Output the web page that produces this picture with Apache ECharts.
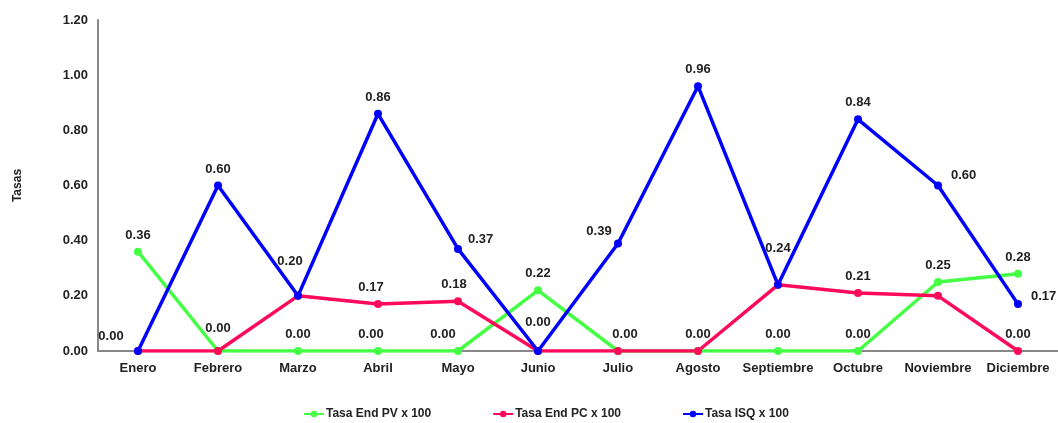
<!DOCTYPE html>
<html>
<head>
<meta charset="utf-8">
<script src="https://cdn.jsdelivr.net/npm/echarts@6/dist/echarts.min.js"></script>
<style>
  html, body { margin: 0; padding: 0; background: #fff; }
  #main { width: 1058px; height: 423px; }
</style>
</head>
<body>
<div id="main"></div>
<script>
const meses = ['Enero', 'Febrero', 'Marzo', 'Abril', 'Mayo', 'Junio', 'Julio', 'Agosto', 'Septiembre', 'Octubre', 'Noviembre', 'Diciembre'];
const tasaEndPV = [0.36, 0.00, 0.00, 0.00, 0.00, 0.22, 0.00, 0.00, 0.00, 0.00, 0.25, 0.28];
const tasaEndPC = [0.00, 0.00, 0.20, 0.17, 0.18, 0.00, 0.00, 0.00, 0.24, 0.21, 0.20, 0.00];
const tasaISQ = [0.00, 0.60, 0.20, 0.86, 0.37, 0.00, 0.39, 0.96, 0.24, 0.84, 0.60, 0.17];

var chartDom = document.getElementById('main');
var myChart = echarts.init(chartDom);
var option;

const fuente = 'Liberation Sans, Arial, sans-serif';

// colocacion de etiquetas que no van centradas encima (serie-indice)
const ajustes = {
  '1-0': { offset: [-27, 2] },
  '0-1': { offset: [0, -6] },
  '1-2': { offset: [-8, -18] },
  '0-3': { offset: [-7, 0] },
  '1-3': { offset: [-7, 0] },
  '0-4': { offset: [-15, 0] },
  '1-4': { offset: [-4, 0] },
  '2-4': { position: 'right', offset: [0, -10] },
  '1-5': { offset: [0, -12] },
  '0-6': { offset: [7, 0] },
  '2-6': { offset: [-19, 4] },
  '1-8': { offset: [0, -20] },
  '2-10': { position: 'right', offset: [3, -10] },
  '1-10': { show: false },
  '2-11': { position: 'right', offset: [3, -8] }
};

// un mismo valor en el mismo mes lleva una sola etiqueta
const vistos = {};
function puntos(valores, s) {
  return valores.map(function (v, i) {
    const clave = i + ':' + v.toFixed(2);
    const item = { value: v };
    if (vistos[clave]) {
      item.label = { show: false };
    } else if (ajustes[s + '-' + i]) {
      item.label = Object.assign({}, ajustes[s + '-' + i]);
    }
    vistos[clave] = true;
    return item;
  });
}

const etiqueta = {
  show: true,
  position: 'top',
  distance: 6,
  color: '#222',
  fontFamily: fuente,
  fontWeight: 'bold',
  fontSize: 13,
  formatter: function (p) { return p.value.toFixed(2); }
};

function serie(nombre, color, datos) {
  return {
    name: nombre,
    type: 'line',
    data: datos,
    symbol: 'circle',
    symbolSize: 8,
    lineStyle: { width: 3.5, color: color },
    itemStyle: { color: color },
    label: etiqueta
  };
}

option = {
  animation: false,
  grid: { left: 98, right: -10, top: 20, bottom: 72 },
  legend: {
    bottom: -2,
    left: 298,
    itemGap: 61,
    itemWidth: 20,
    itemHeight: 8,
    textStyle: { color: '#222', fontFamily: fuente, fontWeight: 'bold', fontSize: 12, padding: [0, 0, 0, -3] },
    data: ['Tasa End PV x 100', 'Tasa End PC x 100', 'Tasa ISQ x 100']
  },
  xAxis: {
    type: 'category',
    boundaryGap: true,
    data: meses,
    axisLine: { lineStyle: { color: '#888', width: 2 } },
    axisTick: { show: false },
    axisLabel: { color: '#222', fontFamily: fuente, fontWeight: 'bold', fontSize: 13, margin: 11, interval: 0 }
  },
  yAxis: {
    type: 'value',
    min: 0,
    max: 1.2,
    interval: 0.2,
    name: 'Tasas',
    nameLocation: 'middle',
    nameGap: 74,
    nameTextStyle: { color: '#222', fontFamily: fuente, fontWeight: 'bold', fontSize: 12 },
    axisLine: { show: true, lineStyle: { color: '#888', width: 2 } },
    axisTick: { show: false },
    splitLine: { show: false },
    axisLabel: {
      color: '#222', fontFamily: fuente, fontWeight: 'bold', fontSize: 13, margin: 10,
      formatter: function (v) { return v.toFixed(2); }
    }
  },
  series: [
    serie('Tasa End PV x 100', '#44ff44', puntos(tasaEndPV, 0)),
    serie('Tasa End PC x 100', '#ff0a5a', puntos(tasaEndPC, 1)),
    serie('Tasa ISQ x 100', '#0000ff', puntos(tasaISQ, 2))
  ]
};

option && myChart.setOption(option);
</script>
</body>
</html>
